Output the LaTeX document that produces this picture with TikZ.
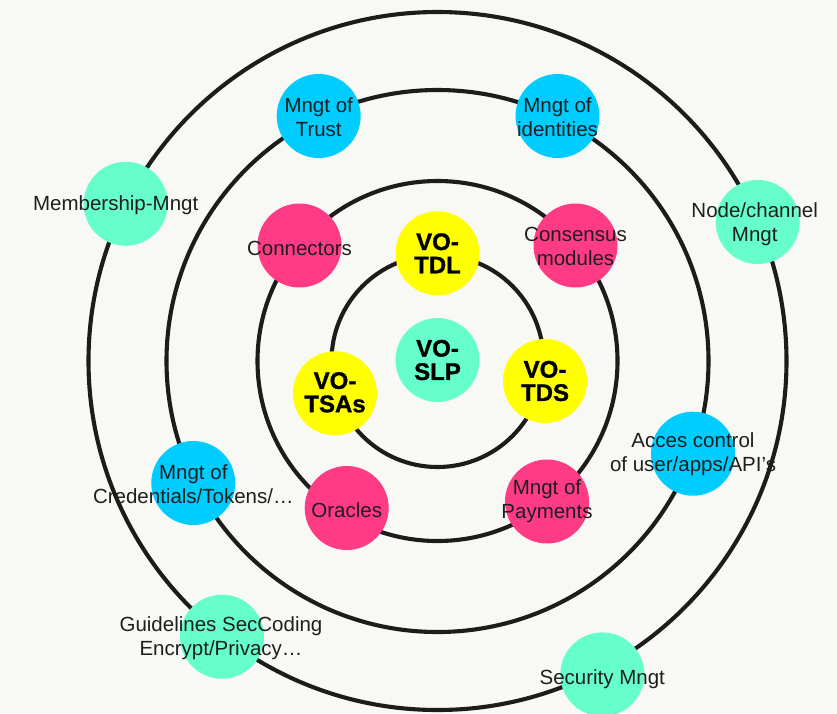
\documentclass[tikz,border=0pt]{standalone}
\usepackage{fontspec}
\setmainfont{Liberation Sans}
\newfontfamily\corefont{Liberation Sans}[BoldFeatures={FakeBold=1.2}]
\usetikzlibrary{calc}

\definecolor{bg}{HTML}{F8F8F4}
\definecolor{ringcol}{HTML}{1C1C1C}
\definecolor{dotblue}{HTML}{00CCFF}
\definecolor{dotpink}{HTML}{FF3B85}
\definecolor{dotgreen}{HTML}{66FFCC}
\definecolor{dotyellow}{HTML}{FFFF00}
\definecolor{ink}{HTML}{1E1E1E}

\begin{document}
\begin{tikzpicture}[x=1pt,y=-1pt,
  ring/.style={draw=ringcol,line width=4.1pt},
  dot/.style={circle,inner sep=0pt,minimum size=84pt,fill=#1},
  txt/.style={font=\fontsize{20.5}{24}\selectfont,text=ink,align=center,inner sep=0pt},
  core/.style={font=\corefont\fontsize{24}{23.3}\selectfont\bfseries,text=black,align=center,inner sep=0pt}]

% canvas
\fill[bg] (0,0) rectangle (837,713);
\useasboundingbox (0,0) rectangle (837,713);

% concentric rings
\coordinate (o) at (437.5,361);
\draw[ring] (o) circle[radius=106];
\draw[ring] (o) circle[radius=180];
\draw[ring] (o) circle[radius=271];
\draw[ring] (o) circle[radius=349];

% core ring
\node[dot=dotgreen]  (slp)  at (437.5,360)   {};
\node[dot=dotyellow] (tdl)  at (437.5,253.3) {};
\node[dot=dotyellow] (tsas) at (335,393.3)   {};
\node[dot=dotyellow] (tds)  at (545,381)     {};

% second ring
\node[dot=dotpink] (conn) at (299.5,245.5) {};
\node[dot=dotpink] (cons) at (575.5,245.5) {};
\node[dot=dotpink] (orac) at (346.7,508)   {};
\node[dot=dotpink] (pay)  at (547,501.5)   {};

% third ring
\node[dot=dotblue] (trust) at (318.7,116)   {};
\node[dot=dotblue] (ident) at (557.5,116)   {};
\node[dot=dotblue] (cred)  at (193.3,483)   {};
\node[dot=dotblue] (acces) at (693,453.7)   {};

% outer ring
\node[dot=dotgreen] (memb)  at (125.7,203.8) {};
\node[dot=dotgreen] (nodem) at (757.7,222)   {};
\node[dot=dotgreen] (guide) at (222,636.7)   {};
\node[dot=dotgreen] (secu)  at (602.3,674.4) {};

% labels
\node[core] (slpT)  at (slp)  {VO-\\SLP};
\node[core] (tdlT)  at (tdl)  {VO-\\TDL};
\node[core] (tsasT) at ($(tsas)+(0,-1)$) {VO-\\TSAs};
\node[core] (tdsT)  at (tds)  {VO-\\TDS};

\node[txt] (connT) at ($(conn)+(0,2.5)$) {Connectors};
\node[txt] (consT) at ($(cons)+(0,1)$)   {Consensus\\modules};
\node[txt] (oracT) at ($(orac)+(0,2)$)   {Oracles};
\node[txt] (payT)  at (pay)              {Mngt of\\Payments};

\node[txt] (trustT) at ($(trust)+(0,1)$) {Mngt of\\Trust};
\node[txt] (identT) at ($(ident)+(0,1)$) {Mngt of\\identities};
\node[txt] (credT)  at ($(cred)+(0,1)$)  {Mngt of\\Credentials/Tokens/…};
\node[txt] (accesT) at (acces)           {Acces control\\of user/apps/API’s};

\node[txt] (membT)  at ($(memb)+(-10,1)$)  {Membership-Mngt};
\node[txt] (nodemT) at ($(nodem)+(-3,2)$)  {Node/channel\\Mngt};
\node[txt] (guideT) at ($(guide)+(-1,1)$)  {Guidelines SecCoding\\Encrypt/Privacy…};
\node[txt] (secuT)  at ($(secu)+(0,5)$)    {Security Mngt};
\end{tikzpicture}
\end{document}
